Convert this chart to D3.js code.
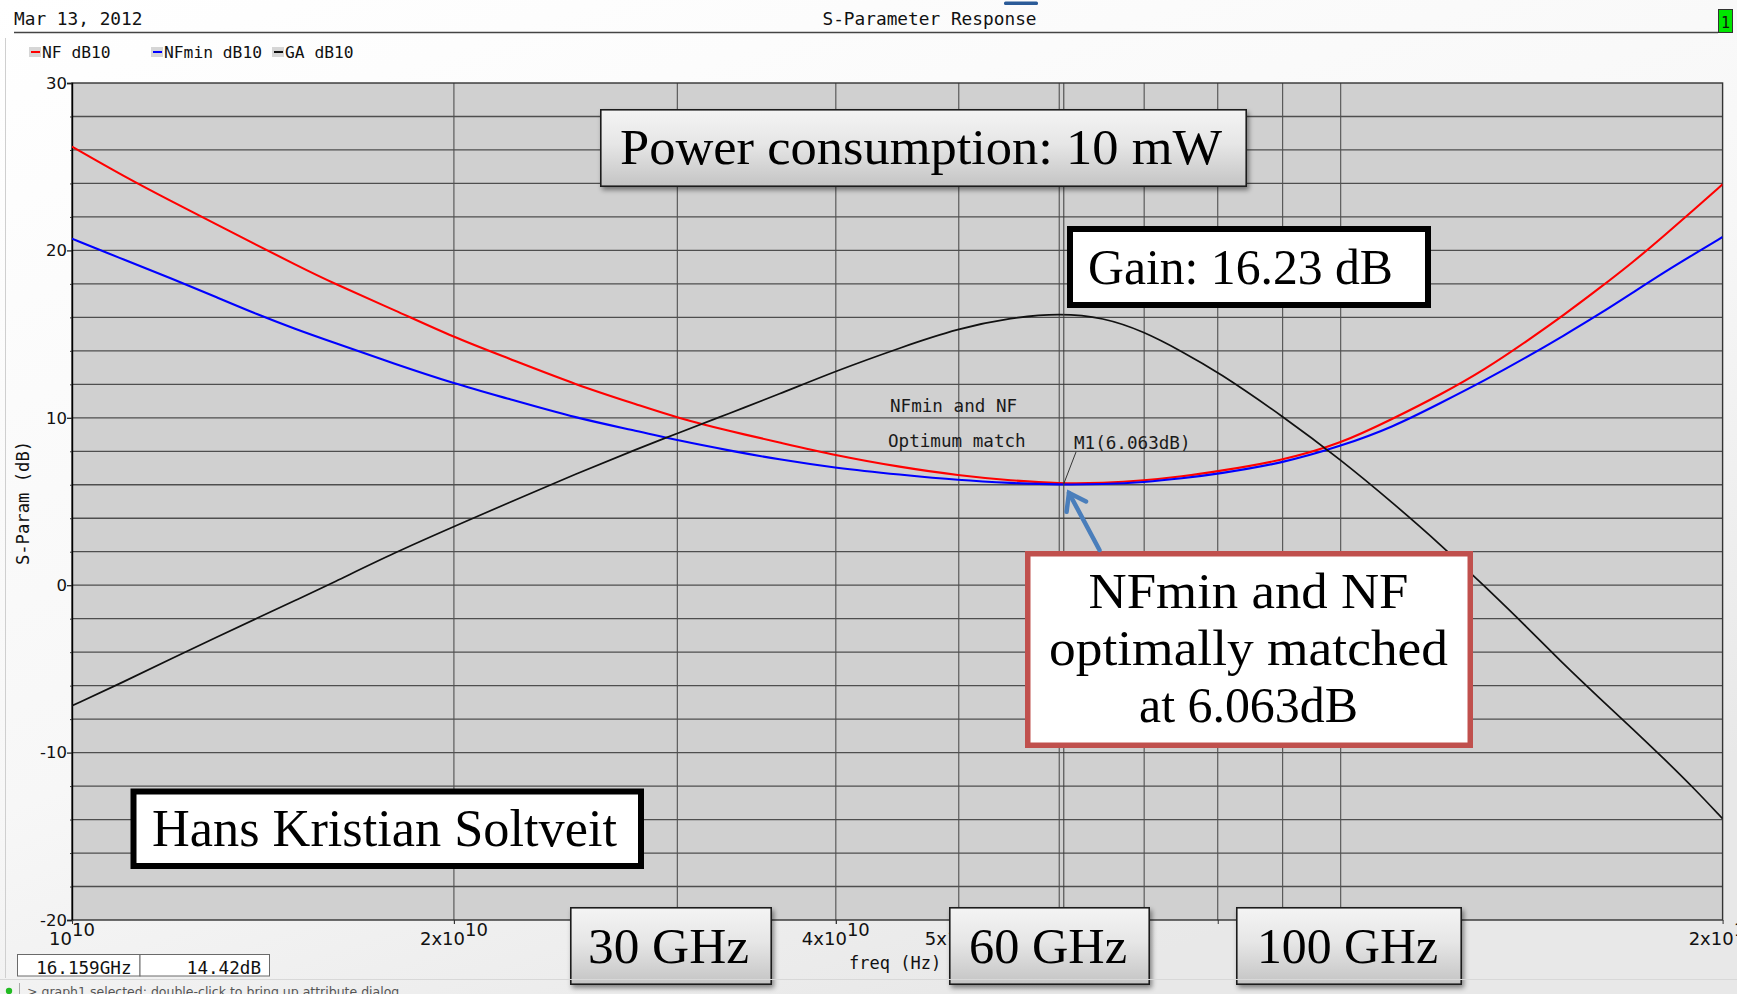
<!DOCTYPE html>
<html>
<head>
<meta charset="utf-8">
<script src="https://cdn.jsdelivr.net/npm/d3@7"></script>
<style>
	body { margin: 0; overflow: hidden; background: #fff; }
	svg { display: block; }
</style>
</head>
<body>
<svg id="chart" width="1737" height="994"></svg>
<script>

// values, frequency in GHz
const freqGHz = [10, 11, 12, 13, 14, 15, 16, 18, 20, 22, 25, 28, 30, 33, 36, 40, 45, 50, 55, 60,
                 65, 70, 75, 80, 90, 100, 110, 120, 130, 140, 150, 160, 170, 180, 190, 200]
const nfDb     = [26.2, 24.4, 22.9, 21.55, 20.3, 19.15, 18.1, 16.4, 14.8, 13.6, 11.95, 10.75, 10.0, 9.2, 8.55, 7.75, 7.05, 6.55, 6.25, 6.07,
                  6.1, 6.25, 6.5, 6.8, 7.45, 8.45, 9.95, 11.4, 12.9, 14.55, 16.15, 17.75, 19.3, 20.9, 22.45, 23.95]
const nfMinDb  = [20.7, 19.43, 18.3, 17.2, 16.17, 15.3, 14.55, 13.2, 12.05, 11.17, 9.97, 9.19, 8.65, 8.04, 7.52, 7.0, 6.6, 6.27, 6.1, 6.0,
                  6.03, 6.15, 6.38, 6.65, 7.29, 8.3, 9.45, 10.9, 12.25, 13.6, 14.92, 16.2, 17.49, 18.71, 19.79, 20.8]
const gaDb     = [-7.2, -5.75, -4.36, -3.1, -1.97, -0.9, 0.09, 1.98, 3.5, 4.87, 6.67, 8.19, 9.07, 10.28, 11.38, 12.8, 14.2, 15.35, 15.98, 16.25,
                  16.0, 15.15, 13.95, 12.75, 10.1, 7.5, 4.9, 2.4, -0.1, -2.45, -4.75, -6.75, -8.6, -10.4, -12.15, -13.95]

const seriesNames  = ["NF dB10", "NFmin dB10", "GA dB10"]
const seriesColors = ["#ff0000", "#0000ff", "#111111"]

const yTicks      = [30, 20, 10, 0, -10, -20]
const yMinorTicks = [28, 26, 24, 22, 18, 16, 14, 12, 8, 6, 4, 2, -2, -4, -6, -8, -12, -14, -16, -18]
const xGridGHz    = [20, 30, 40, 50, 60, 70, 80, 90, 100]
const xTickGHz    = [10, 20, 40, 50, 200]
const xTickMant   = ["", "2x", "4x", "5x", "2x"]
const xTickExp    = ["10", "10", "10", "10", "11"]

const markerGHz = 60.5
const markerDb  = 6.063

const W = 1737, H = 994
const plot = {left: 72, right: 1722.6, top: 83, bottom: 920}

const x = d3.scaleLog().domain([10e9, 200e9]).range([plot.left, plot.right])
const y = d3.scaleLinear().domain([-20, 30]).range([plot.bottom, plot.top])

const MONO  = "'DejaVu Sans Mono', monospace"
const SANS  = "'DejaVu Sans', Verdana, sans-serif"
const SERIF = "'Liberation Serif', 'DejaVu Serif', serif"

const svg  = d3.select("#chart")
const defs = svg.append("defs")

// window background
const bg = defs.append("linearGradient").attr("id", "bg")
	.attr("x1", 0).attr("y1", 0).attr("x2", 0.6).attr("y2", 1)
bg.append("stop").attr("offset", 0).attr("stop-color", "#ffffff")
bg.append("stop").attr("offset", 0.6).attr("stop-color", "#f7f7f7")
bg.append("stop").attr("offset", 1).attr("stop-color", "#e8e8e8")

// grey "button" fill of the callouts
const btn = defs.append("linearGradient").attr("id", "btn")
	.attr("x1", 0).attr("y1", 0).attr("x2", 0).attr("y2", 1)
btn.append("stop").attr("offset", 0).attr("stop-color", "#f4f4f4")
btn.append("stop").attr("offset", 0.45).attr("stop-color", "#e6e6e6")
btn.append("stop").attr("offset", 1).attr("stop-color", "#c4c4c4")

defs.append("filter").attr("id", "shadow")
	.attr("x", "-10%").attr("y", "-10%").attr("width", "130%").attr("height", "140%")
	.append("feDropShadow")
	.attr("dx", 2).attr("dy", 3).attr("stdDeviation", 2.5)
	.attr("flood-color", "#000").attr("flood-opacity", 0.45)

defs.append("clipPath").attr("id", "plotclip")
	.append("rect")
	.attr("x", plot.left).attr("y", plot.top)
	.attr("width", plot.right - plot.left).attr("height", plot.bottom - plot.top)

svg.append("rect").attr("width", W).attr("height", H).attr("fill", "url(#bg)")
svg.append("line").attr("x1", 5.5).attr("x2", 5.5).attr("y1", 38).attr("y2", 978)
	.attr("stroke", "#cfcfcf")

// ---- header ----
svg.append("text").attr("x", 14).attr("y", 25)
	.attr("font-family", MONO).attr("font-size", 17.8).attr("fill", "#111")
	.text("Mar 13, 2012")
svg.append("text").attr("x", 929.5).attr("y", 25).attr("text-anchor", "middle")
	.attr("font-family", MONO).attr("font-size", 17.8).attr("fill", "#111")
	.text("S-Parameter Response")
svg.append("rect").attr("x", 1004).attr("y", 1.5).attr("width", 34).attr("height", 3.5)
	.attr("rx", 1.5).attr("fill", "#2b5b98")
svg.append("line").attr("x1", 14).attr("x2", 1718).attr("y1", 32.5).attr("y2", 32.5)
	.attr("stroke", "#444").attr("stroke-width", 1.5)
svg.append("rect").attr("x", 1718.5).attr("y", 9.5).attr("width", 14).attr("height", 23)
	.attr("fill", "#00e600").attr("stroke", "#333")
svg.append("text").attr("x", 1725.5).attr("y", 27.5).attr("text-anchor", "middle")
	.attr("font-family", MONO).attr("font-size", 15).attr("fill", "#111").text("1")

// ---- legend ----
const legendX = [29, 151, 272]
const legend = svg.append("g").selectAll("g")
	.data(seriesNames)
	.join("g")
	.attr("transform", (d, i) => `translate(${legendX[i]},0)`)
legend.append("rect").attr("x", 0).attr("y", 47).attr("width", 12).attr("height", 10)
	.attr("fill", "#d6d6d6")
legend.append("line").attr("x1", 2).attr("x2", 11).attr("y1", 52).attr("y2", 52)
	.attr("stroke", (d, i) => seriesColors[i]).attr("stroke-width", 2)
legend.append("text").attr("x", 13).attr("y", 57.5)
	.attr("font-family", MONO).attr("font-size", 16.3).attr("fill", "#111")
	.text(d => d)

// ---- plot area and grid ----
svg.append("rect")
	.attr("x", plot.left).attr("y", plot.top)
	.attr("width", plot.right - plot.left).attr("height", plot.bottom - plot.top)
	.attr("fill", "#d0d0d0")

const grid = svg.append("g")
grid.selectAll(".hgrid")
	.data(yMinorTicks.concat(yTicks.filter(v => v > -20 && v < 30)))
	.join("line")
	.attr("x1", plot.left).attr("x2", plot.right)
	.attr("y1", d => y(d)).attr("y2", d => y(d))
	.attr("stroke", "#4e4e4e").attr("stroke-width", 1.3)
grid.selectAll(".vgrid")
	.data(xGridGHz)
	.join("line")
	.attr("x1", d => x(d * 1e9)).attr("x2", d => x(d * 1e9))
	.attr("y1", plot.top).attr("y2", plot.bottom)
	.attr("stroke", "#505050").attr("stroke-width", 1.1)

svg.append("rect")
	.attr("x", plot.left).attr("y", plot.top)
	.attr("width", plot.right - plot.left).attr("height", plot.bottom - plot.top)
	.attr("fill", "none").attr("stroke", "#333").attr("stroke-width", 1.4)

// ---- axes ----
const yAxis = svg.append("g")
	.attr("transform", `translate(${plot.left},0)`)
	.call(d3.axisLeft(y).tickValues(yTicks).tickSize(5).tickPadding(0).tickFormat(d => String(d)))
yAxis.select(".domain").attr("stroke", "#000").attr("stroke-width", 1.4)
yAxis.selectAll(".tick line").attr("stroke", "#222").attr("stroke-width", 1.3)
yAxis.selectAll("text")
	.attr("font-family", SANS).attr("font-size", 16.5).attr("fill", "#111")

const yMinor = svg.append("g")
	.attr("transform", `translate(${plot.left},0)`)
	.call(d3.axisLeft(y).tickValues(yMinorTicks).tickSize(2).tickFormat(""))
yMinor.select(".domain").remove()
yMinor.selectAll(".tick line").attr("stroke", "#333")

const xAxis = svg.append("g")
	.attr("transform", `translate(0,${plot.bottom})`)
	.call(d3.axisBottom(x).tickValues(xGridGHz.concat(xTickGHz).map(d => d * 1e9)).tickSize(4).tickFormat(""))
xAxis.select(".domain").remove()
xAxis.selectAll(".tick line").attr("stroke", "#333")

const xLabels = svg.append("g").selectAll("text")
	.data(xTickGHz)
	.join("text")
	.attr("x", d => x(d * 1e9)).attr("y", 945)
	.attr("text-anchor", "middle")
	.attr("font-family", SANS).attr("font-size", 18).attr("fill", "#111")
xLabels.append("tspan").text((d, i) => xTickMant[i] + "10")
xLabels.append("tspan").attr("dy", -9).text((d, i) => xTickExp[i])

svg.append("text")
	.attr("transform", "translate(29,503) rotate(-90)")
	.attr("text-anchor", "middle")
	.attr("font-family", MONO).attr("font-size", 17.2).attr("fill", "#111")
	.text("S-Param (dB)")
svg.append("text").attr("x", 849).attr("y", 969)
	.attr("font-family", MONO).attr("font-size", 17).attr("fill", "#111")
	.text("freq (Hz)")

// ---- traces ----
const line = d3.line()
	.x((d, i) => x(freqGHz[i] * 1e9))
	.y(d => y(d))
	.curve(d3.curveBasis)

const traces = svg.append("g").attr("clip-path", "url(#plotclip)")
traces.selectAll("path")
	.data([nfDb, nfMinDb, gaDb])
	.join("path")
	.attr("d", line)
	.attr("fill", "none")
	.attr("stroke", (d, i) => seriesColors[i])
	.attr("stroke-width", (d, i) => i == 2 ? 1.7 : 2.1)

// marker M1
const mx = x(markerGHz * 1e9), my = y(markerDb)
svg.append("line").attr("x1", mx).attr("x2", mx).attr("y1", plot.top).attr("y2", plot.bottom)
	.attr("stroke", "#3a3a3a").attr("stroke-width", 1)
svg.append("line").attr("x1", mx).attr("y1", my).attr("x2", 1076).attr("y2", 452)
	.attr("stroke", "#222").attr("stroke-width", 0.9)

const notes = [
	{text: "NFmin and NF",  x: 890,  y: 412},
	{text: "Optimum match", x: 888,  y: 447},
	{text: "M1(6.063dB)",   x: 1074, y: 449}
]
svg.append("g").selectAll("text")
	.data(notes)
	.join("text")
	.attr("x", d => d.x).attr("y", d => d.y)
	.attr("font-family", MONO).attr("font-size", 17.6).attr("fill", "#1a1a1a")
	.text(d => d.text)

// ---- callout boxes ----
function Callout({x0, y0, x1, y1, fill, stroke, strokeWidth, shadow, lines, size}){
	let g = svg.append("g")
	g.append("rect")
		.attr("x", x0 + strokeWidth / 2).attr("y", y0 + strokeWidth / 2)
		.attr("width", x1 - x0 - strokeWidth).attr("height", y1 - y0 - strokeWidth)
		.attr("fill", fill).attr("stroke", stroke).attr("stroke-width", strokeWidth)
		.attr("filter", shadow ? "url(#shadow)" : null)
	g.selectAll("text")
		.data(lines)
		.join("text")
		.attr("x", d => d.x).attr("y", d => d.y)
		.attr("textLength", d => d.w).attr("lengthAdjust", "spacingAndGlyphs")
		.attr("font-family", SERIF).attr("font-size", size).attr("fill", "#000")
		.text(d => d.t)
	return g
}

Callout({x0: 600, y0: 109, x1: 1247, y1: 187, fill: "url(#btn)", stroke: "#1e1e1e", strokeWidth: 1.6,
	shadow: true, size: 51, lines: [{t: "Power consumption: 10 mW", x: 620, y: 164, w: 602}]})

Callout({x0: 1067, y0: 226, x1: 1431, y1: 308, fill: "#fff", stroke: "#000", strokeWidth: 6,
	shadow: false, size: 50, lines: [{t: "Gain: 16.23 dB", x: 1088, y: 284, w: 305}]})

Callout({x0: 1025, y0: 551, x1: 1473, y1: 748, fill: "#fff", stroke: "#c0504d", strokeWidth: 5.5,
	shadow: false, size: 50, lines: [
		{t: "NFmin and NF",      x: 1088.5, y: 607.5, w: 320},
		{t: "optimally matched", x: 1049,   y: 665,   w: 399},
		{t: "at 6.063dB",        x: 1139,   y: 722,   w: 219}
	]})

Callout({x0: 130.5, y0: 788.5, x1: 644, y1: 869, fill: "#fff", stroke: "#000", strokeWidth: 6,
	shadow: false, size: 52, lines: [{t: "Hans Kristian Soltveit", x: 152, y: 846, w: 465}]})

Callout({x0: 570, y0: 907, x1: 772, y1: 985, fill: "url(#btn)", stroke: "#1e1e1e", strokeWidth: 1.6,
	shadow: true, size: 50, lines: [{t: "30 GHz", x: 588, y: 963, w: 161}]})
Callout({x0: 949, y0: 907, x1: 1150, y1: 985, fill: "url(#btn)", stroke: "#1e1e1e", strokeWidth: 1.6,
	shadow: true, size: 50, lines: [{t: "60 GHz", x: 969, y: 963, w: 158}]})
Callout({x0: 1236, y0: 907, x1: 1462, y1: 985, fill: "url(#btn)", stroke: "#1e1e1e", strokeWidth: 1.6,
	shadow: true, size: 50, lines: [{t: "100 GHz", x: 1257, y: 963, w: 181}]})

// arrow pointing at the optimum
const tail = [1099.5, 550], tip = [1069, 493]
const ang = Math.atan2(tail[1] - tip[1], tail[0] - tip[0])
const arm = 19, spread = 0.62
const arrow = svg.append("g").attr("stroke", "#4a7ebb").attr("stroke-width", 4.5)
	.attr("stroke-linecap", "round").attr("fill", "none")
arrow.append("line").attr("x1", tail[0]).attr("y1", tail[1]).attr("x2", tip[0]).attr("y2", tip[1])
arrow.append("path")
	.attr("d", d3.line()([
		[tip[0] + arm * Math.cos(ang - spread), tip[1] + arm * Math.sin(ang - spread)],
		tip,
		[tip[0] + arm * Math.cos(ang + spread), tip[1] + arm * Math.sin(ang + spread)]
	]))

// ---- marker readout and status bar ----
const readout = [{t: "16.159GHz", x0: 17, x1: 139.5}, {t: "14.42dB", x0: 139.5, x1: 269}]
const ro = svg.append("g").selectAll("g").data(readout).join("g")
ro.append("rect")
	.attr("x", d => d.x0 + 0.5).attr("y", 954.5)
	.attr("width", d => d.x1 - d.x0).attr("height", 21.5)
	.attr("fill", "#fff").attr("stroke", "#6a6a6a")
ro.append("text")
	.attr("x", d => d.x1 - 8).attr("y", 973.5).attr("text-anchor", "end")
	.attr("font-family", MONO).attr("font-size", 17.6).attr("fill", "#111")
	.text(d => d.t)

svg.append("line").attr("x1", 0).attr("x2", W).attr("y1", 979.5).attr("y2", 979.5)
	.attr("stroke", "#d8d8d8")
svg.append("circle").attr("cx", 9).attr("cy", 991).attr("r", 3.2).attr("fill", "#22bb22")
svg.append("line").attr("x1", 19.5).attr("x2", 19.5).attr("y1", 983).attr("y2", 994)
	.attr("stroke", "#aaa")
svg.append("text").attr("x", 27).attr("y", 996)
	.attr("font-family", SANS).attr("font-size", 12.5).attr("fill", "#555")
	.text("> graph1 selected: double-click to bring up attribute dialog.")

</script>
</body>
</html>
